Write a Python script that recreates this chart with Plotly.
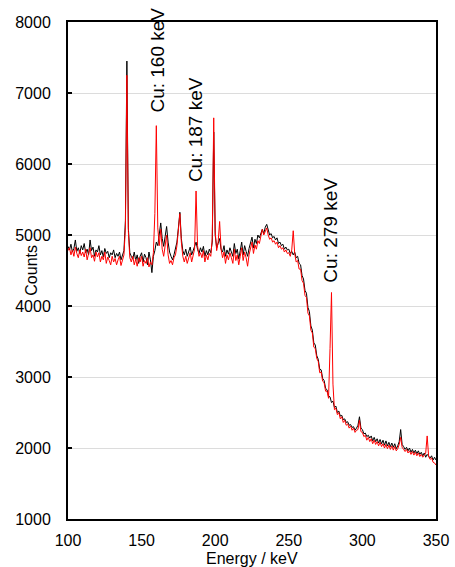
import plotly.graph_objects as go

# Energy channels (keV), 1 keV bins
energy_keV = list(range(100, 351))

# Black spectrum (background / reference)
counts_black = [
    4840, 4790, 4870, 4760, 4810, 4930, 4770, 4820, 4740, 4850,
    4790, 4880, 4750, 4800, 4720, 4930, 4780, 4830, 4700, 4790,
    4760, 4850, 4720, 4780, 4690, 4810, 4740, 4770, 4680, 4750,
    4720, 4790, 4680, 4740, 4700, 4760, 4650, 4720, 4780, 5200,
    7450, 5100, 4750, 4700, 4660, 4760, 4640, 4720, 4600, 4700,
    4750, 4620, 4730, 4680, 4580, 4760, 4650, 4470, 4700, 4780,
    4900, 4850, 5000, 5170, 4950, 4840, 4980, 5120, 4900, 4760,
    4700, 4650, 4720, 4800, 4900, 5100, 5320, 4950, 4780, 4720,
    4800, 4700, 4760, 4830, 4720, 4780, 4850, 4900, 4800, 4740,
    4820, 4760, 4840, 4700, 4780, 4720, 4800, 4750, 4900, 6450,
    5000, 4820, 4880, 4950, 4800, 4760, 4850, 4700, 4790, 4730,
    4820, 4760, 4700, 4880, 4740, 4800, 4660, 4780, 4900, 4720,
    4850, 4770, 4700, 4810, 4900, 4970, 4820, 4940, 4880, 5000,
    4960, 5040, 5080, 5020, 5110, 5150, 5060, 5000, 5020, 4960,
    4980, 4930, 4960, 4880, 4900, 4850, 4870, 4800, 4830, 4790,
    4800, 4740, 4770, 4720, 4760, 4680, 4700, 4600, 4580, 4430,
    4380, 4220, 4180, 3980, 3920, 3720, 3660, 3480, 3450, 3300,
    3250, 3110, 3100, 2980, 2950, 2840, 2820, 2730, 2720, 2640,
    2660, 2570, 2590, 2500, 2520, 2450, 2460, 2400, 2410, 2360,
    2370, 2320, 2330, 2290, 2300, 2250, 2280, 2320, 2440, 2280,
    2260, 2200, 2210, 2160, 2180, 2140, 2170, 2100, 2150, 2090,
    2130, 2070, 2120, 2060, 2110, 2040, 2100, 2030, 2080, 2020,
    2070, 2010, 2060, 1990, 2030, 2090, 2260, 2050, 2020, 1980,
    2010, 1960, 2000, 1940, 1980, 1930, 1970, 1920, 1960, 1910,
    1940, 1890, 1930, 1870, 1910, 1880, 1860, 1890, 1830, 1870,
    1830,
]

# Red spectrum (Cu sample)
counts_red = [
    4780, 4820, 4720, 4790, 4700, 4830, 4740, 4680, 4790, 4710,
    4760, 4690, 4800, 4650, 4740, 4820, 4680, 4720, 4630, 4760,
    4690, 4750, 4620, 4700, 4650, 4760, 4600, 4690, 4640, 4580,
    4700, 4620, 4670, 4580, 4650, 4700, 4570, 4640, 4720, 5100,
    7250, 5050, 4680, 4620, 4700, 4580, 4660, 4560, 4680, 4620,
    4700, 4560, 4640, 4600, 4680, 4550, 4620, 4580, 4750, 5300,
    6540, 5100, 4850, 5080, 4800, 4700, 4900, 5000, 4720, 4600,
    4640, 4580, 4680, 4720, 4850, 5050, 5300, 4900, 4700, 4620,
    4700, 4600, 4680, 4750, 4620, 4700, 4800, 5620, 4850, 4700,
    4750, 4680, 4780, 4620, 4720, 4650, 4740, 4700, 4950, 6650,
    5050, 4780, 4900, 5190, 4800, 4680, 4760, 4600, 4720, 4650,
    4750, 4680, 4600, 4800, 4640, 4720, 4580, 4700, 4820, 4640,
    4760, 4680, 4560, 4720, 4820, 4900, 4740, 4860, 4800, 4920,
    4880, 4980, 5080, 5000, 5060, 5100, 5000, 4940, 4960, 4900,
    4920, 4870, 4900, 4820, 4850, 4800, 4820, 4760, 4790, 4740,
    4750, 4700, 4790, 5060, 4740, 4620, 4640, 4520, 4520, 4360,
    4320, 4150, 4120, 3900, 3860, 3660, 3620, 3420, 3400, 3260,
    3220, 3060, 3070, 2940, 2920, 2800, 2800, 2700, 3400, 4190,
    2900, 2540, 2560, 2470, 2500, 2410, 2440, 2360, 2390, 2320,
    2340, 2280, 2310, 2250, 2280, 2220, 2250, 2260, 2390, 2230,
    2220, 2160, 2180, 2110, 2150, 2090, 2130, 2060, 2110, 2050,
    2090, 2030, 2080, 2020, 2060, 2000, 2050, 1990, 2040, 1980,
    2030, 1970, 2020, 1960, 1990, 2050, 2150, 2010, 1980, 1950,
    1980, 1930, 1960, 1910, 1950, 1900, 1940, 1890, 1930, 1880,
    1910, 1870, 1900, 1930, 2170, 1880, 1840, 1860, 1800, 1790,
    1760,
]

x_ticks = [100, 150, 200, 250, 300, 350]
y_ticks = [1000, 2000, 3000, 4000, 5000, 6000, 7000, 8000]

peak_labels = ["Cu: 160 keV", "Cu: 187 keV", "Cu: 279 keV"]
peak_label_x = [160.5, 186.3, 278.3]
peak_label_y = [6690, 5710, 4300]

FONT = "Liberation Sans, Arial, Helvetica, sans-serif"

fig = go.Figure()
fig.add_trace(go.Scatter(x=energy_keV, y=counts_black, mode="lines",
                         line=dict(color="black", width=1), showlegend=False))
fig.add_trace(go.Scatter(x=energy_keV, y=counts_red, mode="lines",
                         line=dict(color="#ff0000", width=1), showlegend=False))

for t, xv, yv in zip(peak_labels, peak_label_x, peak_label_y):
    fig.add_annotation(x=xv, y=yv, xref="x", yref="y", text=t, textangle=-90,
                       showarrow=False, xanchor="center", yanchor="bottom",
                       font=dict(family=FONT, size=19, color="black"))

fig.add_annotation(x=-0.1, y=0.5, xref="paper", yref="paper", text="Counts",
                   textangle=-90, showarrow=False, xanchor="center", yanchor="middle",
                   font=dict(family=FONT, size=16, color="black"))
fig.add_annotation(x=0.5, y=-0.08, xref="paper", yref="paper", text="Energy / keV",
                   showarrow=False, xanchor="center", yanchor="middle",
                   font=dict(family=FONT, size=16, color="black"))

fig.update_layout(
    width=455, height=567, autosize=False,
    margin=dict(l=68, r=19, t=22, b=48, pad=0, autoexpand=False),
    paper_bgcolor="white", plot_bgcolor="white",
    font=dict(family=FONT, size=16, color="black"),
    xaxis=dict(range=[100, 350], tickvals=x_ticks, showgrid=False, zeroline=False,
               showline=True, linecolor="black", linewidth=2, mirror=True,
               ticks="", tickfont=dict(size=16), ticklabelstandoff=6, automargin=False),
    yaxis=dict(range=[1000, 8000], tickvals=y_ticks, showgrid=True, gridcolor="#dcdcdc",
               gridwidth=1, zeroline=False, showline=True, linecolor="black", linewidth=2,
               mirror=True, ticks="inside", ticklen=4, tickwidth=1.5, tickcolor="black",
               tickfont=dict(size=16), ticklabelstandoff=12, automargin=False),
)

fig.write_html(
    "out.html",
    config={"displayModeBar": False},
    post_script="document.body.style.margin='0';document.body.style.overflow='hidden';",
)
